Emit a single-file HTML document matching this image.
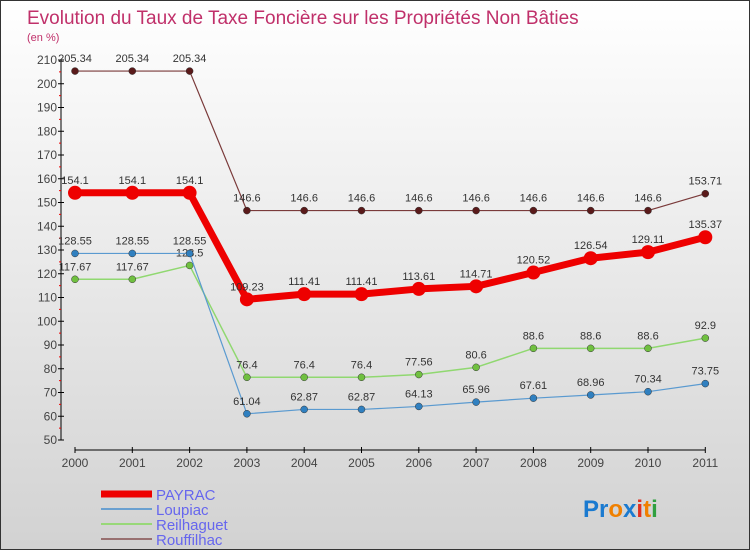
<!DOCTYPE html>
<html><head><meta charset="utf-8"><style>
body{margin:0}
#c{position:relative;width:748px;height:548px;border:1px solid #333;background:linear-gradient(#fff,#d2d2d2);font-family:"Liberation Sans",sans-serif;overflow:hidden}
</style></head><body>
<div id="c">
<svg id="s" width="748" height="548" xmlns="http://www.w3.org/2000/svg">
<text x="26" y="23" font-size="19" fill="#c0306a">Evolution du Taux de Taxe Foncière sur les Propriétés Non Bâties</text>
<text x="26" y="40" font-size="11" fill="#c0306a">(en %)</text>
<g id="axes"></g><g id="series"></g><g id="legend"></g>
<text x="582" y="516" font-size="24" font-weight="bold"><tspan fill="#1a7ad0">Pr</tspan><tspan fill="#f08000">o</tspan><tspan fill="#1a7ad0">x</tspan><tspan fill="#e03020">i</tspan><tspan fill="#f08000">t</tspan><tspan fill="#30a040">i</tspan></text>
</svg></div>
<script>
const years=["2000","2001","2002","2003","2004","2005","2006","2007","2008","2009","2010","2011"];
const payrac=[154.1,154.1,154.1,109.23,111.41,111.41,113.61,114.71,120.52,126.54,129.11,135.37];
const loupiac=[128.55,128.55,128.55,61.04,62.87,62.87,64.13,65.96,67.61,68.96,70.34,73.75];
const reilhaguet=[117.67,117.67,123.5,76.4,76.4,76.4,77.56,80.6,88.6,88.6,88.6,92.9];
const rouffilhac=[205.34,205.34,205.34,146.6,146.6,146.6,146.6,146.6,146.6,146.6,146.6,153.71];
const yTicks=[50,60,70,80,90,100,110,120,130,140,150,160,170,180,190,200,210];
const names=["PAYRAC","Loupiac","Reilhaguet","Rouffilhac"];
const NS="http://www.w3.org/2000/svg";
const X=i=>74+i*57.3, Y=v=>439-(v-50)*2.375;
function el(t,a,p){const e=document.createElementNS(NS,t);for(const k in a)e.setAttribute(k,a[k]);p.appendChild(e);return e;}
const ax=document.getElementById('axes'),sg=document.getElementById('series'),lg=document.getElementById('legend');
let l=el('line',{x1:60,y1:Y(210),x2:60,y2:Y(50),stroke:'#000'},ax);


l=el('line',{x1:74,y1:449,x2:X(11),y2:449,stroke:'#000'},ax);


yTicks.forEach(v=>{el('line',{x1:57,x2:63,y1:Y(v),y2:Y(v),stroke:'#000'},ax);
 if(v<210)el('line',{x1:58,x2:60,y1:Y(v+5),y2:Y(v+5),stroke:'#e00'},ax);
 const t=el('text',{x:56,y:Y(v)+4,'font-size':12,'text-anchor':'end',fill:'#444'},ax);t.textContent=v;
 
 });
years.forEach((y,i)=>{el('line',{x1:X(i),x2:X(i),y1:446,y2:452,stroke:'#000'},ax);
 const t=el('text',{x:X(i),y:466,'font-size':12,'text-anchor':'middle',fill:'#444'},ax);t.textContent=y;
 
 });
const sers=[[rouffilhac,'#7a3a3a','#5a1a1a',1.2,3.5],[reilhaguet,'#90d870','#70c040',1.5,3.5],[loupiac,'#5a9ad0','#3080c0',1.2,3.5],[payrac,'#ee0000','#ee0000',7,7]];
sers.forEach(([d,c,pc,w,r],k)=>{
 const g=el('g',{},sg);
 
 
 el('polyline',{points:d.map((v,i)=>X(i)+','+Y(v)).join(' '),fill:'none',stroke:c,'stroke-width':w,'stroke-linejoin':'round'},g);
 d.forEach((v,i)=>{const p=el('circle',{cx:X(i),cy:Y(v),r:r,fill:pc,stroke:k==3?'none':'#333','stroke-width':0.5},g);
  
  
  const t=el('text',{x:X(i),y:Y(v)-9,'font-size':11,'text-anchor':'middle',fill:'#333'},g);t.textContent=v;
  
  });
});
const lc=['#ee0000','#6aa0d0','#98d878','#987070'],lw=[7,2,2,2];
names.forEach((n,i)=>{const y=493+i*15;
 const g=el('g',{},lg);
 
 
 el('line',{x1:100,x2:151,y1:y,y2:y,stroke:lc[i],'stroke-width':lw[i]},g);
 const t=el('text',{x:155,y:y+6,'font-size':15,fill:'#6666ee'},g);t.textContent=n;});
</script>
</body></html>
